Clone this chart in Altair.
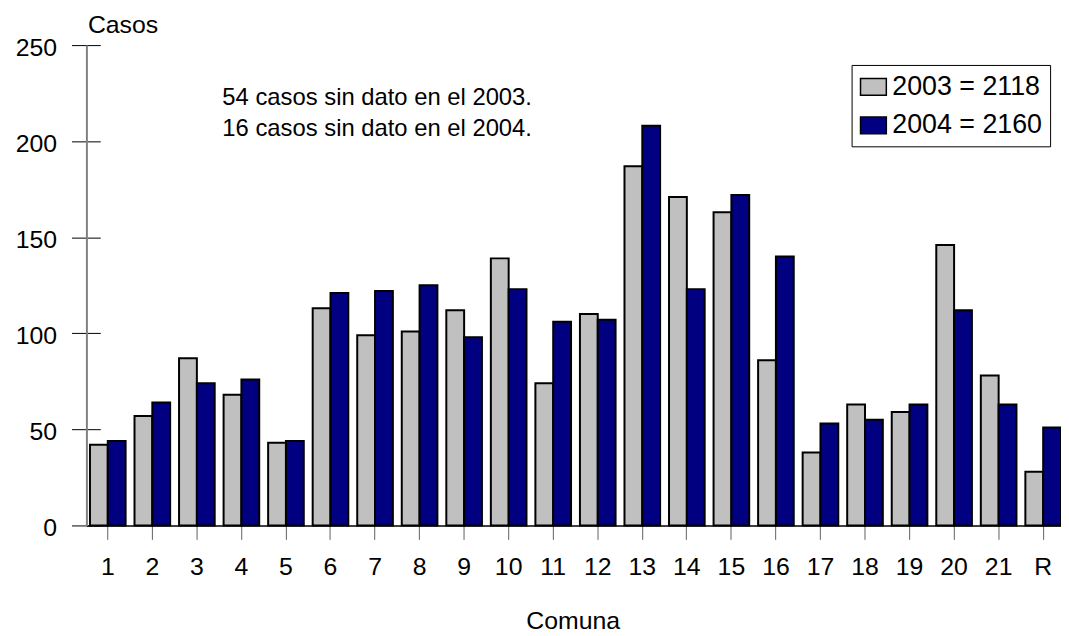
import altair as alt
import pandas as pd

comunas = ["1", "2", "3", "4", "5", "6", "7", "8", "9", "10", "11", "12",
           "13", "14", "15", "16", "17", "18", "19", "20", "21", "R"]
casos_2003 = [42, 57, 87, 68, 43, 113, 99, 101, 112, 139, 74, 110,
              187, 171, 163, 86, 38, 63, 59, 146, 78, 28]
casos_2004 = [44, 64, 74, 76, 44, 121, 122, 125, 98, 123, 106, 107,
              208, 123, 172, 140, 53, 55, 63, 112, 63, 51]
series_labels = ["2003 = 2118", "2004 = 2160"]
series_colors = ["#C0C0C0", "#000080"]
y_ticks = [0, 50, 100, 150, 200, 250]
note_lines = "54 casos sin dato en el 2003.\n16 casos sin dato en el 2004."

rows = []
for c, a, b in zip(comunas, casos_2003, casos_2004):
    rows.append({"Comuna": c, "Serie": series_labels[0], "Casos": a})
    rows.append({"Comuna": c, "Serie": series_labels[1], "Casos": b})
df = pd.DataFrame(rows)

FONT = "Liberation Sans"

bars = alt.Chart(df).mark_bar(stroke="black", strokeWidth=2).encode(
    x=alt.X(
        "Comuna:N",
        sort=comunas,
        scale=alt.Scale(paddingInner=0.2, paddingOuter=0.04, align=1),
        axis=alt.Axis(
            title="Comuna",
            labelAngle=0,
            labelFontSize=25,
            labelFont=FONT,
            labelColor="black",
            labelBaseline="alphabetic",
            labelPadding=35,
            tickSize=14,
            tickColor="#606060",
            tickWidth=1,
            domainColor="black",
            domainWidth=1.5,
            titleFont=FONT,
            titleFontSize=25,
            titleFontWeight="normal",
            titleColor="black",
            titleX=490,
            titleY=104,
            titleAlign="center",
            titleBaseline="alphabetic",
        ),
    ),
    xOffset=alt.XOffset("Serie:N", sort=series_labels, scale=alt.Scale(paddingInner=0)),
    y=alt.Y(
        "Casos:Q",
        scale=alt.Scale(domain=[0, 250], nice=False),
        axis=alt.Axis(
            title="Casos",
            values=y_ticks,
            labelFontSize=25,
            labelFont=FONT,
            labelColor="black",
            labelPadding=15,
            labelOffset=2,
            tickSize=15,
            tickColor="black",
            tickWidth=1,
            domainColor="#808080",
            domainWidth=2,
            grid=True,
            gridColor="black",
            gridWidth=1,
            gridDash=[14, 3000],
            titleAngle=0,
            titleFont=FONT,
            titleFontSize=25,
            titleFontWeight="normal",
            titleColor="black",
            titleAlign="left",
            titleBaseline="alphabetic",
            titleX=1,
            titleY=-13,
        ),
    ),
    fill=alt.Fill(
        "Serie:N",
        sort=series_labels,
        scale=alt.Scale(domain=series_labels, range=series_colors),
        legend=alt.Legend(
            title=None,
            orient="none",
            legendX=771,
            legendY=20,
            padding=8,
            strokeColor="black",
            fillColor="white",
            symbolType="M-1,-0.65H1V0.65H-1Z",
            symbolSize=676,
            symbolStrokeColor="black",
            symbolStrokeWidth=1.5,
            symbolOpacity=1,
            labelFont=FONT,
            labelFontSize=27,
            labelColor="black",
            labelOffset=5,
            labelLimit=400,
            rowPadding=12,
        ),
    ),
)

note = alt.Chart(pd.DataFrame({"t": [note_lines]})).mark_text(
    align="left",
    baseline="alphabetic",
    font=FONT,
    fontSize=24,
    color="black",
    lineBreak="\n",
    lineHeight=31.7,
).encode(
    text="t:N",
    x=alt.value(137),
    y=alt.value(60),
)

chart = alt.layer(bars, note).properties(
    width=982,
    height=484,
    padding={"left": 79, "top": 35, "right": 0, "bottom": 108},
    autosize=alt.AutoSizeParams(type="none"),
    background="white",
).configure_view(stroke=None)

chart.save("out.html", embed_options={"renderer": "svg", "actions": False})
